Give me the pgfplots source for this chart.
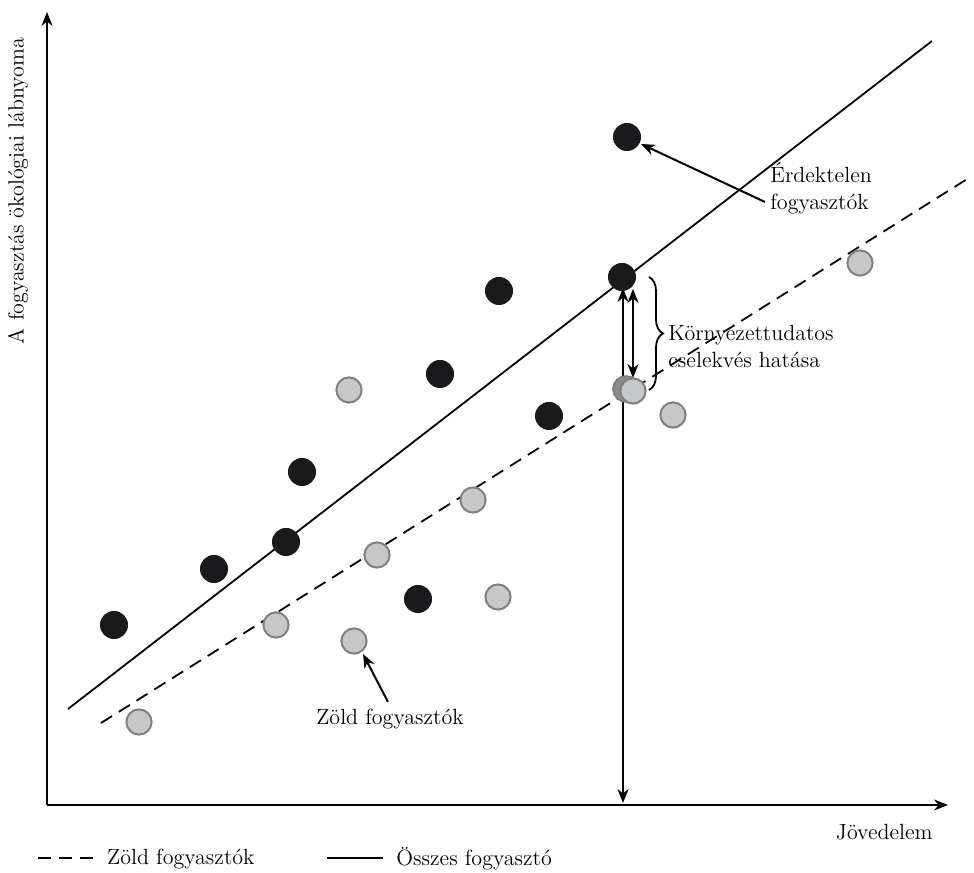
\documentclass[border=0pt]{standalone}
\usepackage{pgfplots}
\pgfplotsset{compat=1.18}
\usetikzlibrary{arrows.meta,decorations.pathreplacing}
\definecolor{dotblack}{HTML}{1A1A1C}
\definecolor{dotgrey}{HTML}{C6C7C8}
\definecolor{dotedge}{HTML}{808080}
\definecolor{dotmid}{HTML}{8C8C8C}
\begin{document}
\begin{tikzpicture}[>={Stealth[length=7pt,width=5.5pt]}, font=\fontsize{11}{13.5}\selectfont]
\begin{axis}[
  scale only axis,
  width=487pt, height=435.5pt,
  xmin=0, xmax=974, ymin=0, ymax=871,
  hide axis, clip=false,
  legend style={at={(0.038,0.015)}, anchor=west, draw=none, fill=none,
    font=\fontsize{11}{13.5}\selectfont, legend columns=2, inner sep=0pt,
    /tikz/every odd column/.append style={column sep=4pt},
    /tikz/every even column/.append style={column sep=34pt}},
  legend image code/.code={\draw[#1] (0pt,0pt)--(28pt,0pt);},
]
% frame for the bounding box
\path (axis cs:0,0) rectangle (axis cs:974,871);

% regression lines
\addplot[black, line width=0.9pt, dash pattern=on 6.5pt off 4pt] coordinates {(101,148) (972,695)};
\addlegendentry{Zöld fogyasztók}
\addplot[black, line width=0.9pt] coordinates {(68,162) (932,830)};
\addlegendentry{Összes fogyasztó}

% axes
\draw[->, line width=0.8pt] (axis cs:47,66) -- (axis cs:47,859);
\draw[->, line width=0.8pt] (axis cs:47,66) -- (axis cs:948,66);

% hidden dark grey dot behind the green one
\addplot[only marks, mark=*, mark size=6.4pt, mark options={fill=dotmid, draw=dotedge, line width=1pt}, forget plot]
  coordinates {(626,482)};

% green consumers
\addplot[only marks, mark=*, mark size=6.3pt, mark options={fill=dotgrey, draw=dotedge, line width=1pt}, forget plot]
  coordinates {(139,149) (276,246) (354,230) (349,481) (377,316) (473,371) (498,274) (673,456) (860,608) (633,480)};

% all consumers
\addplot[only marks, mark=*, mark size=6.8pt, mark options={fill=dotblack, draw=dotblack}, forget plot]
  coordinates {(114,246) (214,302) (286,329) (302,399) (440,497) (499,580) (418,272) (549,455) (627,734) (622,594)};

% vertical arrows
\draw[<->, line width=1pt] (axis cs:623,583) -- (axis cs:623,68);
\draw[<->, line width=1pt] (axis cs:633,582) -- (axis cs:633,493);
\draw[decorate, decoration={brace, amplitude=7pt}, line width=0.9pt] (axis cs:649,594) -- (axis cs:649,481);

% annotations
\draw[->, line width=1pt] (axis cs:765,669) -- (axis cs:641,727);
\draw[->, line width=1pt] (axis cs:388,169) -- (axis cs:363,217);
\node[anchor=west, align=left, inner sep=0pt] at (axis cs:770,683) {Érdektelen\\fogyasztók};
\node[anchor=west, align=left, inner sep=0pt] at (axis cs:668,525) {Környezettudatos\\cselekvés hatása};
\node[anchor=center, inner sep=0pt] at (axis cs:390,152) {Zöld fogyasztók};
\node[anchor=east, inner sep=0pt] at (axis cs:933,39) {Jövedelem};
\node[rotate=90, inner sep=0pt] at (axis cs:18,680) {A fogyasztás ökológiai lábnyoma};
\end{axis}
\end{tikzpicture}
\end{document}
